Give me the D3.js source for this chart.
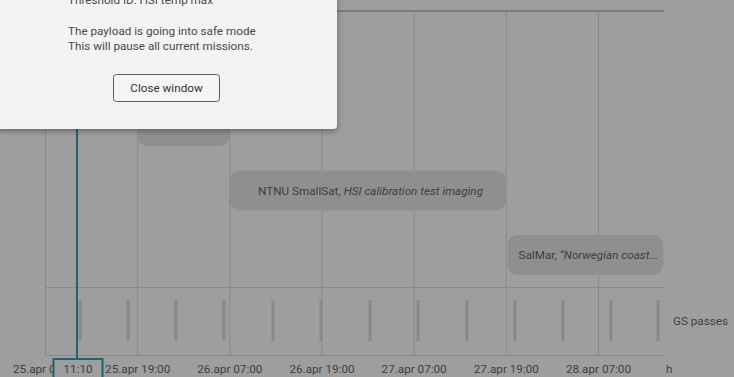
<!DOCTYPE html>
<html><head><meta charset="utf-8">
<script src="https://cdn.jsdelivr.net/npm/d3@7"></script>
<style>
html,body{margin:0;padding:0;background:#9e9e9e;overflow:hidden}
svg{display:block;font-family:Roboto,"Noto Sans",sans-serif}
</style></head>
<body><svg id="c" width="734" height="377"></svg>
<script>
// ---------- data ----------
const domainStart = "2023-04-25T07:00";
const domainEnd   = "2023-04-28T15:36";
const tickTimes = ["2023-04-25T07:00","2023-04-25T19:00","2023-04-26T07:00","2023-04-26T19:00","2023-04-27T07:00","2023-04-27T19:00","2023-04-28T07:00"];
const nowTime = "2023-04-25T11:10";
const missionStarts = ["2023-04-25T19:00","2023-04-26T07:00","2023-04-27T19:15"];
const missionEnds   = ["2023-04-26T07:00","2023-04-27T19:00","2023-04-28T15:30"];
const missionRows   = [1,2,3];
const missionSats   = ["","NTNU SmallSat, ","SalMar, "];
const missionNames  = ["","HSI calibration test imaging","\u201CNorwegian coast..."];
const gsPasses = ["2023-04-25T11:34","2023-04-25T17:49","2023-04-26T00:03","2023-04-26T06:18","2023-04-26T12:41","2023-04-26T18:56","2023-04-27T01:19","2023-04-27T07:34","2023-04-27T13:57","2023-04-27T20:12","2023-04-28T02:27","2023-04-28T08:42","2023-04-28T14:49"];
const dialogLines = ["Threshold ID: HSI temp max","","The payload is going into safe mode","This will pause all current missions."];
const buttonLabel = "Close window";

(function(){
// ---------- setup ----------
const parse = d3.timeParse("%Y-%m-%dT%H:%M");
const locale = d3.timeFormatLocale({dateTime:"%x %X",date:"%d.%m.%Y",time:"%H:%M:%S",periods:["",""],
  days:["søndag","mandag","tirsdag","onsdag","torsdag","fredag","lørdag"],shortDays:["sø","ma","ti","on","to","fr","lø"],
  months:["januar","februar","mars","april","mai","juni","juli","august","september","oktober","november","desember"],
  shortMonths:["jan","feb","mar","apr","mai","jun","jul","aug","sep","okt","nov","des"]});
const fmtTick = locale.format("%d.%b %H:%M");
const fmtNow = locale.format("%H:%M");

const svg = d3.select("#c");
const W = 734, H = 377, FS = 11.7;
const xL = 45, xR = 664, yT = 11, ySep = 287, yB = 355;
const x = d3.scaleTime().domain([parse(domainStart), parse(domainEnd)]).range([xL, xR]);
const rowY = d3.scaleLinear().domain([1,3]).range([106,235]);
const barH = 40;

const textCol = "#3e3e3e", gridCol = "#8a8a8a", teal = "#1f6470";

svg.append("rect").attr("width",W).attr("height",H).attr("fill","#9e9e9e");

// grid
const grid = svg.append("g").attr("transform",`translate(0,${yB})`)
  .call(d3.axisBottom(x).tickValues(tickTimes.map(parse)).tickSizeInner(-(yB-yT)).tickSizeOuter(0).tickFormat(""));
grid.select(".domain").remove();
grid.selectAll("line").attr("stroke",gridCol);

// horizontal lines
svg.append("line").attr("x1",xL).attr("x2",xR).attr("y1",yT).attr("y2",yT).attr("stroke","#7a7a7a").attr("stroke-width",2);
[ySep,yB].forEach(y=>svg.append("line").attr("x1",xL).attr("x2",xR).attr("y1",y+0.5).attr("y2",y+0.5).attr("stroke",gridCol));

// tick labels
const ax = svg.append("g").attr("transform",`translate(0,${yB})`)
  .call(d3.axisBottom(x).tickValues(tickTimes.map(parse)).tickSize(0).tickPadding(9.7).tickFormat(fmtTick));
ax.select(".domain").remove();
ax.selectAll("text").attr("fill",textCol).attr("font-size",FS).attr("font-family","Roboto");
svg.append("text").attr("x",xR+2).attr("y",373).attr("fill",textCol).attr("font-size",FS).text("h");

// missions
const missions = missionStarts.map((s,i)=>({s:parse(s),e:parse(missionEnds[i]),row:missionRows[i],sat:missionSats[i],name:missionNames[i]}));
const mg = svg.append("g").selectAll("g").data(missions).join("g");
mg.append("rect").attr("x",d=>x(d.s)).attr("width",d=>x(d.e)-x(d.s))
  .attr("y",d=>rowY(d.row)).attr("height",barH).attr("rx",10).attr("fill","#8f8f8f");
const mt = mg.append("text").attr("x",d=>(x(d.s)+x(d.e))/2+3).attr("y",d=>rowY(d.row)+barH/2+4)
  .attr("text-anchor","middle").attr("font-size",FS).attr("fill",textCol);
mt.append("tspan").text(d=>d.sat);
mt.append("tspan").attr("font-style","italic").text(d=>d.name);

// GS passes
svg.append("g").selectAll("line").data(gsPasses.map(parse)).join("line")
  .attr("x1",d=>x(d)).attr("x2",d=>x(d)).attr("y1",300).attr("y2",341)
  .attr("stroke","#898989").attr("stroke-width",3);
svg.append("text").attr("x",673).attr("y",325).attr("font-size",FS).attr("fill",textCol).text("GS passes");

// now line
const xn = x(parse(nowTime));
svg.append("line").attr("x1",xn).attr("x2",xn).attr("y1",yT).attr("y2",359).attr("stroke",teal).attr("stroke-width",2);
svg.append("rect").attr("x",xn-23.5).attr("y",359).attr("width",49).attr("height",26)
  .attr("fill","#9e9e9e").attr("stroke",teal).attr("stroke-width",2);
svg.append("text").attr("x",xn+1).attr("y",373).attr("text-anchor","middle").attr("font-size",FS).attr("fill",textCol).text(fmtNow(parse(nowTime)));

// dialog
const defs = svg.append("defs");
const f = defs.append("filter").attr("id","sh").attr("x","-20%").attr("y","-20%").attr("width","140%").attr("height","150%");
f.append("feDropShadow").attr("dx",0).attr("dy",2).attr("stdDeviation",3).attr("flood-color","#000").attr("flood-opacity",0.35);
svg.append("rect").attr("x",-5).attr("y",-40).attr("width",342).attr("height",169).attr("rx",4)
  .attr("fill","#f3f3f3").attr("filter","url(#sh)");
const dys = [4,19,35,50];
dialogLines.forEach((t,i)=>svg.append("text").attr("x",68).attr("y",dys[i]).attr("font-size",FS).attr("fill","#4a4a4a").text(t));
svg.append("rect").attr("x",113.5).attr("y",74.5).attr("width",106).attr("height",27).attr("rx",3)
  .attr("fill","#f5f5f5").attr("stroke","#5a5a5a");
svg.append("text").attr("x",166.5).attr("y",92).attr("text-anchor","middle").attr("font-size",FS).attr("fill","#333").text(buttonLabel);
})();
</script></body></html>
